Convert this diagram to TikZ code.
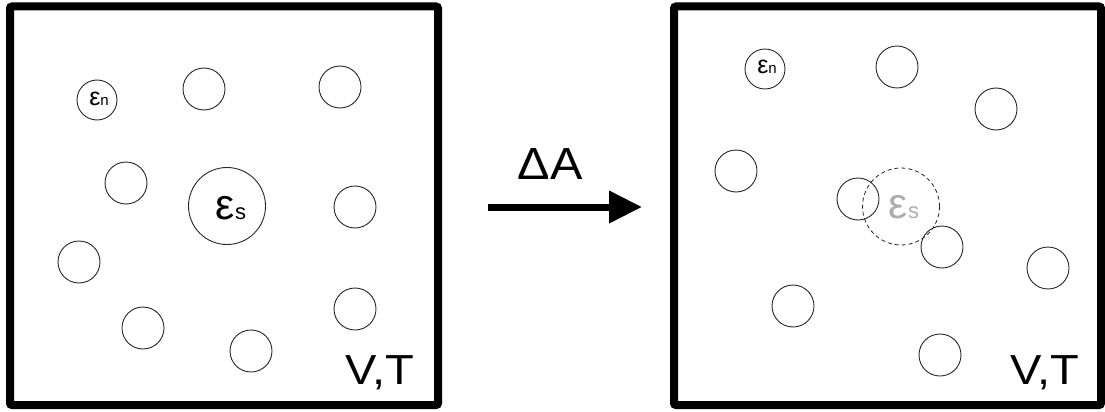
\documentclass[tikz,border=0pt]{standalone}
\usepackage{fontspec}
\setmainfont{Liberation Sans}
\usetikzlibrary{arrows.meta}
\tikzset{
  frame/.style={draw, line width=8pt, rounded corners=2pt, inner sep=0pt, outer sep=0pt},
  ball/.style={draw=black!85, circle, line width=0.9pt, inner sep=0pt, minimum size=42pt},
  bigball/.style={ball, minimum size=77pt},
  lbl/.style={inner sep=0pt, anchor=base},
}
\newcommand{\epsbig}[1]{{\fontsize{43}{43}\selectfont ε}{\fontsize{22}{22}\selectfont #1}}
\newcommand{\epssmall}[1]{{\fontsize{25}{25}\selectfont ε}{\fontsize{15}{15}\selectfont #1}}
\begin{document}
\begin{tikzpicture}[x=1pt,y=-1pt]
\useasboundingbox (0,0) rectangle (1105,412);
% boxes
\node[frame, minimum width=428pt, minimum height=398.5pt] (boxL) at (224,205.75) {};
\node[frame, minimum width=427pt, minimum height=398.5pt] (boxR) at (887.5,205.75) {};
% left circles
\node[ball, minimum size=40pt] (ln) at (97,100) {};
\node[lbl] (lnt) at (99,105) {\epssmall{n}};
\node[ball] (l1) at (204,89) {};
\node[ball] (l2) at (340,87) {};
\node[ball] (l3) at (126,183) {};
\node[bigball] (ls) at (227,206) {};
\node[lbl] (lst) at (231,219) {\epsbig{s}};
\node[ball] (l4) at (355,207) {};
\node[ball] (l5) at (79,262) {};
\node[ball] (l6) at (143,328) {};
\node[ball] (l7) at (251,351) {};
\node[ball] (l8) at (355,309) {};
\node[lbl, xscale=1.12] (vtL) at (380,384) {\fontsize{42}{42}\selectfont V,T};
% arrow
\coordinate (aS) at (488,207);
\coordinate (aE) at (642,207);
\draw[line width=7pt, -{Triangle[length=33pt,width=31pt]}] (aS) -- (aE);
\node[lbl, xscale=1.08] (dA) at (550,179) {\fontsize{45}{45}\selectfont ΔA};
% right circles
\node[ball, minimum size=40pt] (rn) at (765,69) {};
\node[lbl] (rnt) at (767,74) {\epssmall{n}};
\node[ball] (r1) at (897,67) {};
\node[ball] (r2) at (996,109) {};
\node[ball] (r3) at (736,171) {};
\node[ball] (r4) at (858,199) {};
\node[bigball, dashed, line width=0.8pt, dash pattern=on 4pt off 3pt] (rs) at (901,206.5) {};
\node[lbl, text=black!32] (rst) at (904,218) {\epsbig{s}};
\node[ball] (r5) at (942,247) {};
\node[ball] (r6) at (1048,268) {};
\node[ball] (r7) at (793,306) {};
\node[ball] (r8) at (940,355) {};
\node[lbl, xscale=1.12] (vtR) at (1045,384) {\fontsize{42}{42}\selectfont V,T};
\end{tikzpicture}
\end{document}
